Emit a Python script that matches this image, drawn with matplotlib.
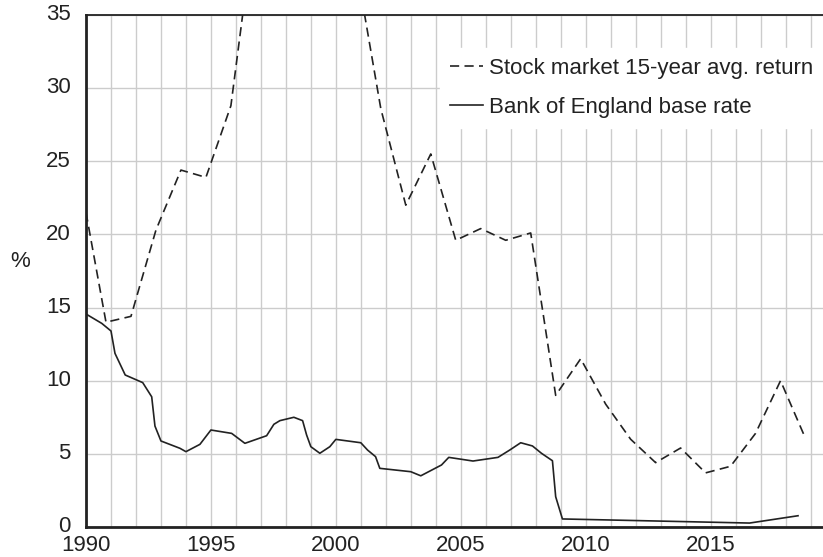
import matplotlib.pyplot as plt
from matplotlib.transforms import ScaledTranslation

plt.rcParams['font.family'] = ['Liberation Sans', 'DejaVu Sans']

# Stock market 15-year average return (%), one point per year
stock_x = [1990.0, 1990.8, 1991.8, 1992.8, 1993.8, 1994.8, 1995.8, 1996.8, 1997.8,
           1998.8, 1999.8, 2000.8, 2001.8, 2002.8, 2003.8, 2004.8, 2005.8, 2006.8,
           2007.8, 2008.8, 2009.8, 2010.8, 2011.8, 2012.8, 2013.8, 2014.8, 2015.8,
           2016.8, 2017.8, 2018.8]
stock_y = [21.5, 14.0, 14.4, 20.3, 24.4, 23.9, 28.8, 42.0, 48.0,
           50.0, 47.0, 38.5, 28.6, 22.0, 25.5, 19.6, 20.4, 19.6,
           20.1, 9.0, 11.5, 8.4, 6.0, 4.4, 5.4, 3.7, 4.15,
           6.4, 10.0, 6.05]

# Bank of England base rate (%)
boe_x = [1990.0, 1990.63, 1991.0, 1991.16, 1991.57, 1992.27, 1992.63, 1992.76, 1993.0,
         1993.76, 1994.0, 1994.56, 1995.0, 1995.83, 1996.36, 1997.23, 1997.52, 1997.76,
         1998.32, 1998.67, 1998.83, 1999.0, 1999.36, 1999.76, 2000.0, 2001.0, 2001.27,
         2001.59, 2001.76, 2003.0, 2003.4, 2004.23, 2004.52, 2005.49, 2006.49, 2006.96,
         2007.4, 2007.87, 2008.23, 2008.67, 2008.8, 2009.07, 2016.56, 2018.5]
boe_y = [14.56, 13.92, 13.4, 11.87, 10.39, 9.87, 8.9, 6.9, 5.88,
         5.38, 5.15, 5.65, 6.63, 6.4, 5.72, 6.24, 7.02, 7.27,
         7.5, 7.27, 6.29, 5.49, 5.04, 5.49, 5.99, 5.76, 5.26,
         4.81, 4.01, 3.78, 3.5, 4.24, 4.76, 4.51, 4.76, 5.26,
         5.76, 5.54, 5.04, 4.53, 2.07, 0.55, 0.27, 0.77]

years = list(range(1990, 2020))
year_labels = [str(y) if y % 5 == 0 else '' for y in years]
pct_ticks = [0, 5, 10, 15, 20, 25, 30, 35]

fig = plt.figure(figsize=(8.23, 5.57), dpi=100)
ax = fig.add_axes([86 / 823, 1 - 527 / 557, 1 - 86 / 823, 512 / 557])

ax.plot(stock_x, stock_y, color='#222222', lw=1.2, dashes=(5.5, 3.2),
        label='Stock market 15-year avg. return')
ax.plot(boe_x, boe_y, color='#222222', lw=1.2, label='Bank of England base rate')

ax.set_xlim(1990, 2019.5)
ax.set_ylim(0, 35)
ax.set_xticks(years)
ax.set_xticklabels(year_labels)
ax.set_yticks(pct_ticks)
ax.tick_params(axis='both', length=0, labelsize=16, colors='#222222')
ax.tick_params(axis='y', pad=11)
ax.tick_params(axis='x', pad=6)
ax.grid(True, color='#cccccc', lw=1)
ax.set_axisbelow(True)

# lift the y labels a touch so "0" clears "1990"
lift = ScaledTranslation(0, 2 / 72, fig.dpi_scale_trans)
for lbl in ax.get_yticklabels():
    lbl.set_transform(lbl.get_transform() + lift)

for side in ['left', 'bottom']:
    ax.spines[side].set_linewidth(2)
    ax.spines[side].set_color('#222222')
ax.spines['top'].set_linewidth(1.3)
ax.spines['top'].set_color('#222222')
ax.spines['right'].set_visible(False)

fig.text(20 / 823, 1 - 262 / 557, '%', fontsize=16, color='#222222',
         ha='center', va='center')

leg = ax.legend(loc='upper right', bbox_to_anchor=(1.0, (527 - 48) / 512),
                borderaxespad=0, fontsize=16, frameon=True, framealpha=1,
                fancybox=False, edgecolor='white', handlelength=1.45,
                handletextpad=0.28, labelspacing=0.8, borderpad=0.45)
for t in leg.get_texts():
    t.set_color('#222222')

plt.savefig('out.png', dpi=100)
plt.close()
